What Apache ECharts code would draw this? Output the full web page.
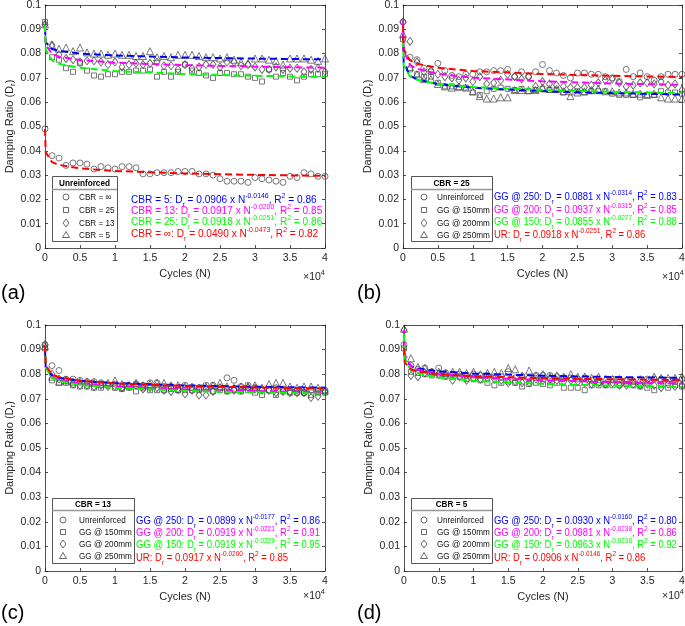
<!DOCTYPE html>
<html><head><meta charset="utf-8">
<script src="https://cdn.jsdelivr.net/npm/echarts@6/dist/echarts.min.js"></script>
<style>html,body{margin:0;padding:0;background:#fff}#c{width:685px;height:626px}</style>
</head><body><div id="c"></div><script>
// ---------- data ----------
const CYCLES = [0,1000,2000,3000,4000,5000,6000,7000,8000,9000,10000,11000,12000,13000,14000,15000,16000,17000,18000,19000,20000,21000,22000,23000,24000,25000,26000,27000,28000,29000,30000,31000,32000,33000,34000,35000,36000,37000,38000,39000,40000];
const X_TICKS = ['0','0.5','1','1.5','2','2.5','3','3.5','4'];

// Unreinforced
const UR_INF = [0.049,0.038,0.037,0.034,0.035,0.035,0.0345,0.0325,0.0335,0.033,0.0325,0.0335,0.0335,0.033,0.0305,0.0305,0.031,0.031,0.031,0.0315,0.0315,0.0315,0.0305,0.0305,0.030,0.0285,0.0275,0.0275,0.0275,0.027,0.029,0.0285,0.028,0.0275,0.027,0.0295,0.029,0.031,0.0305,0.0295,0.0295];
const UR_25 = [0.093,0.0785,0.0775,0.074,0.0725,0.076,0.073,0.071,0.0705,0.0715,0.0715,0.0725,0.0725,0.073,0.073,0.0735,0.0705,0.0725,0.0705,0.0725,0.0755,0.073,0.072,0.071,0.070,0.072,0.072,0.0715,0.0715,0.0705,0.070,0.0685,0.0735,0.0705,0.072,0.0705,0.069,0.0705,0.0715,0.0715,0.0715];
const UR_13_A = [0.092,0.0835,0.0795,0.078,0.0775,0.0765,0.077,0.077,0.0765,0.0755,0.0765,0.0745,0.0755,0.076,0.0755,0.076,0.0765,0.075,0.075,0.0735,0.0755,0.074,0.0745,0.0755,0.0755,0.0745,0.0765,0.0765,0.075,0.0755,0.0745,0.0735,0.0735,0.0745,0.0735,0.074,0.074,0.0725,0.0735,0.074,0.0725];
const UR_13_C = [0.092,0.0835,0.0815,0.078,0.078,0.0775,0.077,0.077,0.0765,0.0755,0.076,0.0745,0.0755,0.076,0.0755,0.0765,0.0765,0.075,0.075,0.0735,0.0755,0.0745,0.0745,0.0755,0.0755,0.0745,0.0785,0.0775,0.075,0.0755,0.0745,0.0735,0.0735,0.0745,0.0735,0.073,0.0735,0.0725,0.0735,0.073,0.0735];
const UR_5 = [0.092,0.0835,0.082,0.0825,0.081,0.0825,0.0805,0.080,0.080,0.0795,0.080,0.0795,0.0795,0.079,0.079,0.081,0.0785,0.079,0.0785,0.0795,0.0795,0.0795,0.079,0.0785,0.0785,0.078,0.0785,0.0775,0.0765,0.076,0.078,0.078,0.0775,0.077,0.0755,0.078,0.078,0.078,0.0775,0.077,0.078];
// CBR = 25
const B_150 = [0.086,0.0735,0.0715,0.0705,0.0705,0.068,0.0665,0.0665,0.066,0.066,0.064,0.063,0.0645,0.0655,0.066,0.0655,0.065,0.0655,0.0645,0.065,0.0655,0.065,0.065,0.064,0.064,0.0645,0.064,0.0645,0.0645,0.0645,0.0635,0.063,0.063,0.063,0.062,0.063,0.063,0.0645,0.064,0.064,0.0635];
const B_200 = [0.093,0.085,0.0765,0.0725,0.073,0.0715,0.0705,0.070,0.069,0.070,0.0685,0.0705,0.0675,0.068,0.069,0.0715,0.0705,0.0695,0.0705,0.0665,0.0685,0.0675,0.067,0.0665,0.066,0.066,0.066,0.067,0.068,0.069,0.0695,0.068,0.0665,0.067,0.068,0.068,0.0675,0.0685,0.067,0.0675,0.065];
const B_250 = [0.088,0.0745,0.0715,0.0695,0.0695,0.0675,0.0665,0.066,0.0665,0.066,0.0645,0.0625,0.0615,0.0615,0.062,0.062,0.065,0.065,0.065,0.065,0.066,0.0655,0.0655,0.0645,0.0625,0.064,0.0645,0.065,0.0655,0.0645,0.0645,0.064,0.064,0.0635,0.0635,0.063,0.0635,0.062,0.0615,0.0615,0.0615];
// CBR = 13
const C_150 = [0.0905,0.0775,0.0765,0.0765,0.0755,0.075,0.075,0.0745,0.0745,0.0755,0.0745,0.074,0.0745,0.073,0.0745,0.0735,0.0735,0.0735,0.074,0.0735,0.0735,0.0735,0.0735,0.074,0.073,0.0735,0.073,0.0735,0.073,0.0735,0.0725,0.0715,0.0735,0.0715,0.073,0.0725,0.0725,0.0725,0.0715,0.0725,0.0725];
const C_200 = [0.092,0.080,0.078,0.0775,0.076,0.0755,0.0755,0.075,0.0755,0.075,0.075,0.0745,0.075,0.0755,0.074,0.0745,0.0745,0.0735,0.073,0.074,0.072,0.0735,0.0715,0.0715,0.073,0.0745,0.0735,0.0735,0.0735,0.0745,0.074,0.0735,0.0735,0.0725,0.073,0.0725,0.0725,0.0725,0.0705,0.071,0.073];
const C_250 = [0.0915,0.079,0.077,0.0775,0.077,0.077,0.077,0.0765,0.076,0.0765,0.0775,0.076,0.0755,0.0765,0.0755,0.076,0.0765,0.0765,0.0755,0.0755,0.075,0.075,0.0745,0.075,0.0755,0.0765,0.075,0.0745,0.075,0.075,0.0755,0.0745,0.076,0.0765,0.0765,0.075,0.0745,0.075,0.075,0.0745,0.0735];
// CBR = 5
const D_150 = [0.0905,0.081,0.0805,0.080,0.0795,0.0795,0.079,0.079,0.079,0.078,0.078,0.0775,0.0765,0.0755,0.0765,0.077,0.0765,0.075,0.076,0.0765,0.076,0.0755,0.0765,0.0745,0.0745,0.0745,0.0735,0.0755,0.0755,0.0755,0.0755,0.0755,0.076,0.0755,0.075,0.0745,0.0735,0.0755,0.0745,0.0755,0.075];
const D_200 = [0.098,0.0795,0.079,0.0805,0.0805,0.080,0.0795,0.0775,0.079,0.0775,0.0785,0.078,0.0785,0.078,0.0775,0.0765,0.077,0.0765,0.0765,0.078,0.0775,0.078,0.0775,0.077,0.0775,0.077,0.0765,0.076,0.0765,0.076,0.0765,0.0755,0.0755,0.076,0.0755,0.076,0.0755,0.0745,0.076,0.075,0.0755];
const D_250 = [0.0985,0.0865,0.083,0.0825,0.081,0.081,0.0805,0.081,0.081,0.0805,0.081,0.080,0.0805,0.081,0.0805,0.0825,0.082,0.0795,0.0815,0.0795,0.080,0.079,0.0795,0.079,0.080,0.079,0.079,0.0785,0.079,0.078,0.078,0.078,0.0775,0.0775,0.078,0.0775,0.079,0.0785,0.0785,0.0785,0.079];

// fitted power-law curves, values read at these cycle counts
const FIT_N = [1,100,1000,2000,5000,10000,20000,30000,40000];
const FIT_0906_0146 = [0.0906,0.08471,0.08191,0.08108,0.08001,0.07920,0.07840,0.07794,0.07761];
const FIT_0917_0200 = [0.0917,0.08363,0.07987,0.07877,0.07734,0.07627,0.07522,0.07462,0.07419];
const FIT_0918_0251 = [0.0918,0.08178,0.07719,0.07585,0.07413,0.07285,0.07159,0.07087,0.07036];
const FIT_0490_0473 = [0.0490,0.03941,0.03534,0.03420,0.03275,0.03170,0.03067,0.03009,0.02968];
const FIT_0881_0314 = [0.0881,0.07624,0.07092,0.06940,0.06743,0.06597,0.06455,0.06374,0.06317];
const FIT_0937_0315 = [0.0937,0.08105,0.07538,0.07375,0.07165,0.07010,0.06859,0.06772,0.06711];
const FIT_0855_0277 = [0.0855,0.07526,0.07061,0.06927,0.06753,0.06625,0.06499,0.06426,0.06375];
const FIT_0899_0177 = [0.0899,0.08286,0.07955,0.07858,0.07732,0.07638,0.07545,0.07491,0.07452];
const FIT_0919_0221 = [0.0919,0.08301,0.07889,0.07769,0.07613,0.07497,0.07383,0.07318,0.07271];
const FIT_0919_0229 = [0.0919,0.08270,0.07845,0.07722,0.07562,0.07443,0.07325,0.07258,0.07210];
const FIT_0930_0160 = [0.0930,0.08639,0.08327,0.08235,0.08115,0.08026,0.07937,0.07886,0.07850];
const FIT_0981_0238 = [0.0981,0.08792,0.08323,0.08187,0.08010,0.07879,0.07750,0.07675,0.07623];
const FIT_0963_0238 = [0.0963,0.08630,0.08170,0.08036,0.07863,0.07734,0.07608,0.07535,0.07483];

const LEGEND_TITLES = ['Unreinforced','CBR = 25','CBR = 13','CBR = 5'];
const LEGEND_A = ['CBR = \u221e','CBR = 25','CBR = 13','CBR = 5'];
const LEGEND_GG = ['Unreinforced','GG @ 150mm','GG @ 200mm','GG @ 250mm'];
const EQ_A = ['CBR = 5: D{s|r} = 0.0906 x N{p|-0.0146}, R{p|2} = 0.86','CBR = 13: D{s|r} = 0.0917 x N{p|-0.0200}, R{p|2} = 0.85','CBR = 25: D{s|r} = 0.0918 x N{p|-0.0251}, R{p|2} = 0.86','CBR = \u221e: D{s|r} = 0.0490 x N{p|-0.0473}, R{p|2} = 0.82'];
const EQ_B = ['GG @ 250: D{s|r} = 0.0881 x N{p|-0.0314}, R{p|2} = 0.83','GG @ 200: D{s|r} = 0.0937 x N{p|-0.0315}, R{p|2} = 0.85','GG @ 150: D{s|r} = 0.0855 x N{p|-0.0277}, R{p|2} = 0.88','UR: D{s|r} = 0.0918 x N{p|-0.0251}, R{p|2} = 0.86'];
const EQ_C = ['GG @ 250: D{s|r} = 0.0899 x N{p|-0.0177}, R{p|2} = 0.86','GG @ 200: D{s|r} = 0.0919 x N{p|-0.0221}, R{p|2} = 0.91','GG @ 150: D{s|r} = 0.0919 x N{p|-0.0229}, R{p|2} = 0.95','UR: D{s|r} = 0.0917 x N{p|-0.0200}, R{p|2} = 0.85'];
const EQ_D = ['GG @ 250: D{s|r} = 0.0930 x N{p|-0.0160}, R{p|2} = 0.80','GG @ 200: D{s|r} = 0.0981 x N{p|-0.0238}, R{p|2} = 0.86','GG @ 150: D{s|r} = 0.0963 x N{p|-0.0238}, R{p|2} = 0.92','UR: D{s|r} = 0.0906 x N{p|-0.0146}, R{p|2} = 0.86'];
const PANEL_LABELS = ['(a)','(b)','(c)','(d)'];

// ---------- layout / style ----------
const FONT = 'Liberation Sans';
const AX = '#262626';
const MK = '#444444';
const COLORS = ['#0000ff','#ff00ff','#00ff00','#ff0000'];
const PANELS = [
  {grid:{left:45,top:5,width:280,height:243}, scat:[UR_INF,UR_25,UR_13_A,UR_5], fits:[FIT_0906_0146,FIT_0917_0200,FIT_0918_0251,FIT_0490_0473], eq:EQ_A, legend:LEGEND_A,
   box:{x:52,y:176,w:65,h:65,sep:189,ty:183,mx:66,tx:79,rows:[197,210,223,235]}, eqx:131, eqs:0.92, eqy:[200,211,222,234], lab:[1,293], x10:[303,277]},
  {grid:{left:403,top:5,width:279,height:243}, scat:[UR_25,B_150,B_200,B_250], fits:[FIT_0881_0314,FIT_0937_0315,FIT_0855_0277,FIT_0918_0251], eq:EQ_B, legend:LEGEND_GG,
   box:{x:411,y:176,w:81,h:65,sep:189,ty:183,mx:424,tx:437,rows:[197,210,223,235]}, eqx:494, eqs:0.86, eqy:[197,210,222,235], lab:[357,293], x10:[662,277]},
  {grid:{left:45,top:325,width:280,height:246}, scat:[UR_13_C,C_150,C_200,C_250], fits:[FIT_0899_0177,FIT_0919_0221,FIT_0919_0229,FIT_0917_0200], eq:EQ_C, legend:LEGEND_GG,
   box:{x:52,y:498,w:82,h:65,sep:510,ty:504,mx:63,tx:79,rows:[520,532,544,556]}, eqx:136, eqs:0.865, eqy:[521,533,545,558], lab:[1,613], x10:[303,596]},
  {grid:{left:404,top:325,width:278,height:246}, scat:[UR_5,D_150,D_200,D_250], fits:[FIT_0930_0160,FIT_0981_0238,FIT_0963_0238,FIT_0906_0146], eq:EQ_D, legend:LEGEND_GG,
   box:{x:411,y:498,w:81,h:65,sep:510,ty:504,mx:424,tx:437,rows:[520,532,544,556]}, eqx:494, eqs:0.86, eqy:[521,533,545,558], lab:[357,613], x10:[662,596]}
];
const SYMS = [['circle',6],['rect',5],['diamond',[6,8]],['triangle',7]];
const SQ = 0.86; // horizontal squeeze of the original's lettering

const grids=[], xAxes=[], yAxes=[], series=[], elements=[];
const yFmt = v => String(parseFloat(v.toFixed(2)));
const xFmt = v => X_TICKS[Math.round(v/5000)];

PANELS.forEach((P,i)=>{
  grids.push(Object.assign({containLabel:false, outerBoundsMode:'none', show:false}, P.grid));
  const tick = {show:true, inside:true, length:3, lineStyle:{color:AX, width:0.8}};
  const line = {show:true, onZero:false, lineStyle:{color:AX, width:0.8}};
  xAxes.push({type:'value', gridIndex:i, min:0, max:40000, interval:5000, axisLine:line, axisTick:tick, splitLine:{show:false},
    axisLabel:{formatter:xFmt, color:AX, fontSize:10.5, fontFamily:FONT, margin:5},
    name:'Cycles (N)', nameLocation:'middle', nameGap:20, nameTextStyle:{fontSize:11, color:AX, fontFamily:FONT}});
  xAxes.push({type:'value', gridIndex:i, position:'top', min:0, max:40000, interval:5000, axisLine:line, axisTick:tick, splitLine:{show:false}, axisLabel:{show:false}});
  yAxes.push({type:'value', gridIndex:i, min:0, max:0.1, interval:0.01, axisLine:line, axisTick:tick, splitLine:{show:false},
    axisLabel:{formatter:yFmt, color:AX, fontSize:10.5, fontFamily:FONT, margin:4},
    name:'Damping Ratio (D{s|r})', nameLocation:'middle', nameGap:19, nameRotate:90,
    nameTextStyle:{fontSize:11, color:AX, fontFamily:FONT, lineHeight:14, rich:{s:{fontSize:8, color:AX, fontFamily:FONT, verticalAlign:'bottom', lineHeight:8}}}});
  yAxes.push({type:'value', gridIndex:i, position:'right', min:0, max:0.1, interval:0.01, axisLine:line, axisTick:tick, splitLine:{show:false}, axisLabel:{show:false}});

  P.scat.forEach((arr,k)=>{
    series.push({type:'scatter', xAxisIndex:2*i, yAxisIndex:2*i, symbol:SYMS[k][0], symbolSize:SYMS[k][1], clip:false, silent:true, z:2,
      itemStyle:{color:'rgba(0,0,0,0)', borderColor:MK, borderWidth:0.9},
      data: CYCLES.map((c,j)=>[c, arr[j]])});
  });
  P.fits.forEach((arr,k)=>{
    series.push({type:'line', xAxisIndex:2*i, yAxisIndex:2*i, showSymbol:false, silent:true, z:3+k, clip:false,
      lineStyle:{color:COLORS[k], width:2, type:[7,4]},
      data: FIT_N.map((n,j)=>[n, arr[j]])});
  });

  // legend box
  const B = P.box;
  elements.push({type:'rect', shape:{x:B.x+0.5,y:B.y+0.5,width:B.w,height:B.h}, style:{fill:'#fff', stroke:'#555', lineWidth:1}, z:10});
  elements.push({type:'line', shape:{x1:B.x,y1:B.sep+0.5,x2:B.x+B.w,y2:B.sep+0.5}, style:{stroke:'#999', lineWidth:1.5}, z:11});
  elements.push({type:'text', x:B.x+B.w/2, y:B.ty, scaleX:SQ, z:11, style:{text:LEGEND_TITLES[i], fill:'#000', font:'bold 9.5px "'+FONT+'"', align:'center', verticalAlign:'middle', textAlign:'center', textVerticalAlign:'middle'}});
  const mstyle = {fill:'none', stroke:MK, lineWidth:0.8};
  B.rows.forEach((ry,k)=>{
    const mx=B.mx;
    let el;
    if(k===0) el={type:'circle', shape:{cx:mx,cy:ry,r:3}};
    else if(k===1) el={type:'rect', shape:{x:mx-2.5,y:ry-2.5,width:5,height:5}};
    else if(k===2) el={type:'polygon', shape:{points:[[mx,ry-4],[mx+3,ry],[mx,ry+4],[mx-3,ry]]}};
    else el={type:'polygon', shape:{points:[[mx,ry-3.5],[mx+3.5,ry+2.5],[mx-3.5,ry+2.5]]}};
    el.style=mstyle; el.z=11;
    elements.push(el);
    elements.push({type:'text', x:B.tx, y:ry, scaleX:SQ, z:11, style:{text:P.legend[k], fill:'#111', font:'9.5px "'+FONT+'"', align:'left', verticalAlign:'middle', textAlign:'left', textVerticalAlign:'middle'}});
  });
  // equations
  P.eq.forEach((t,k)=>{
    const col = COLORS[k];
    elements.push({type:'text', x:P.eqx, y:P.eqy[k], scaleX:P.eqs, z:12, style:{text:t, fill:col, font:'11px "'+FONT+'"', lineHeight:17,
      align:'left', verticalAlign:'middle', textAlign:'left', textVerticalAlign:'middle',
      rich:{p:{fontSize:7.5, fontFamily:FONT, fill:col, verticalAlign:'top', lineHeight:8},
            s:{fontSize:7.5, fontFamily:FONT, fill:col, verticalAlign:'bottom', lineHeight:8}}}});
  });
  // panel label
  elements.push({type:'text', x:P.lab[0], y:P.lab[1], style:{text:PANEL_LABELS[i], fill:'#000', font:'20px "'+FONT+'"', align:'left', verticalAlign:'middle', textAlign:'left', textVerticalAlign:'middle'}});
  // x10^4
  elements.push({type:'text', x:P.x10[0], y:P.x10[1], style:{text:'\u00d710{p|4}', fill:AX, font:'10.5px "'+FONT+'"', lineHeight:16, align:'left', verticalAlign:'middle', textAlign:'left', textVerticalAlign:'middle',
    rich:{p:{fontSize:7.5, fontFamily:FONT, fill:AX, verticalAlign:'top', lineHeight:8}}}});
});

const chart = echarts.init(document.getElementById('c'), null, {renderer:'canvas'});
chart.setOption({animation:false, backgroundColor:'#fff', textStyle:{fontFamily:FONT},
  grid:grids, xAxis:xAxes, yAxis:yAxes, series:series, graphic:{elements:elements}});
</script></body></html>
